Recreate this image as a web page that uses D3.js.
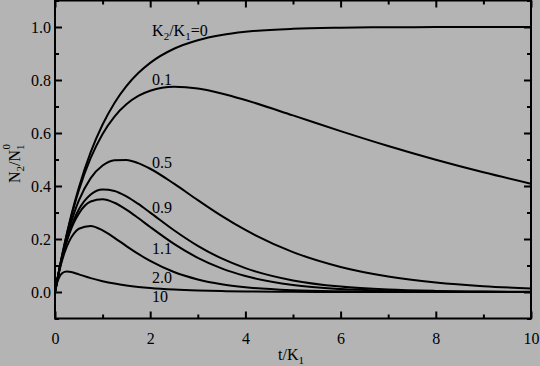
<!DOCTYPE html>
<html>
<head>
<meta charset="utf-8">
<script src="https://cdn.jsdelivr.net/npm/d3@7"></script>
<style>
  html, body { margin: 0; padding: 0; background: #b4b4b4; }
  svg { display: block; }
  text { font-family: "Liberation Serif", "Times New Roman", serif; fill: #000; }
</style>
</head>
<body>
<svg id="chart" width="540" height="366"></svg>
<script>
// ---- data ----
const tMain = [0,0.1,0.2,0.3,0.4,0.5,0.75,1,1.25,1.5,1.75,2,2.5,3,3.5,4,5,6,7,8,9,10];
const r0   = [0,0.0952,0.1813,0.2592,0.3297,0.3935,0.5276,0.6321,0.7135,0.7769,0.8262,0.8647,0.9179,0.9502,0.9698,0.9817,0.9933,0.9975,0.9991,0.9997,0.9999,1.0];
const r01  = [0,0.0947,0.1794,0.2551,0.3227,0.3830,0.5060,0.5966,0.6622,0.7084,0.7397,0.7593,0.7741,0.7678,0.7494,0.7244,0.6664,0.6070,0.5508,0.4989,0.4516,0.4087];
const r05  = [0,0.0928,0.1722,0.2398,0.2968,0.3445,0.4298,0.4773,0.4975,0.4985,0.4862,0.4651,0.4088,0.3467,0.2871,0.2340,0.1507,0.0946,0.0586,0.0360,0.0220,0.0134];
const r09  = [0,0.0909,0.1654,0.2256,0.2736,0.3110,0.3679,0.3869,0.3815,0.3611,0.3323,0.2996,0.2331,0.1742,0.1266,0.0901,0.0437,0.0204,0.0092,0.0041,0.0018,0.0008];
const r11  = [0,0.0900,0.1621,0.2189,0.2628,0.2958,0.3413,0.3501,0.3367,0.3108,0.2790,0.2453,0.1816,0.1290,0.0892,0.0604,0.0265,0.0112,0.0046,0.0018,0.0007,0.0003];
const r20  = [0,0.0861,0.1484,0.1920,0.2210,0.2387,0.2492,0.2325,0.2044,0.1733,0.1436,0.1170,0.0753,0.0473,0.0293,0.0180,0.0067,0.0025,0.0009,0.0003,0.0001,0.0000];
const tFast = [0,0.05,0.1,0.15,0.2,0.25,0.3,0.4,0.5,0.75,1,1.25,1.5,1.75,2,2.5,3,3.5,4,5,6,7,8,9,10];
const r10  = [0,0.0383,0.0597,0.0708,0.0759,0.0774,0.0768,0.0724,0.0666,0.0524,0.0409,0.0318,0.0248,0.0193,0.0150,0.0091,0.0055,0.0034,0.0020,0.0007,0.0003,0.0001,0.0000,0.0000,0.0000];

const xMajor = [0,2,4,6,8,10];
const xMinor = [1,3,5,7,9];
const yMajor = [0,0.2,0.4,0.6,0.8,1.0];
const yMinor = [-0.1,0.1,0.3,0.5,0.7,0.9,1.1];

const seriesList = [
  {t: tMain, v: r0},
  {t: tMain, v: r01},
  {t: tMain, v: r05},
  {t: tMain, v: r09},
  {t: tMain, v: r11},
  {t: tMain, v: r20},
  {t: tFast, v: r10}
];

const curveLabels = [
  {parts: [["K",""],["2","sub"],["/K",""],["1","sub"],["=0",""]], t: 2.04, v: 0.967},
  {parts: [["0.1",""]], t: 2.04, v: 0.782},
  {parts: [["0.5",""]], t: 2.04, v: 0.469},
  {parts: [["0.9",""]], t: 2.04, v: 0.299},
  {parts: [["1.1",""]], t: 2.04, v: 0.1445},
  {parts: [["2.0",""]], t: 2.04, v: 0.035},
  {parts: [["10",""]], t: 2.04, v: -0.037}
];

// ---- layout ----
const PL = 55, PR = 531, PT = 0.5, PB = 318.5;
const svg = d3.select("#chart");
const xs = d3.scaleLinear().domain([0,10]).range([PL,PR]);
const ys = d3.scaleLinear().domain([-0.1,1.1]).range([PB,PT]);

svg.append("rect").attr("width",540).attr("height",366).attr("fill","#b4b4b4");

const lineGen = d3.line().x(d => xs(d[0])).y(d => ys(d[1])).curve(d3.curveMonotoneX);
svg.append("clipPath").attr("id","clip").append("rect")
  .attr("x",PL).attr("y",PT).attr("width",PR-PL).attr("height",PB-PT);
svg.append("g").attr("clip-path","url(#clip)")
  .selectAll("path").data(seriesList).join("path")
  .attr("d", s => lineGen(s.t.map((t,i) => [t, s.v[i]])))
  .attr("fill","none").attr("stroke","#000").attr("stroke-width",2);

const fmt = d3.format(".1f");
const axBottom = d3.axisBottom(xs).tickValues(xMajor).tickSizeInner(-7).tickSizeOuter(0).tickPadding(14).tickFormat(d3.format("d"));
const axBottomMinor = d3.axisBottom(xs).tickValues(xMinor).tickSizeInner(-4).tickSizeOuter(0).tickFormat("");
const axTop = d3.axisTop(xs).tickValues(xMajor).tickSizeInner(-7).tickSizeOuter(0).tickFormat("");
const axTopMinor = d3.axisTop(xs).tickValues(xMinor).tickSizeInner(-4).tickSizeOuter(0).tickFormat("");
const axLeft = d3.axisLeft(ys).tickValues(yMajor).tickSizeInner(-7).tickSizeOuter(0).tickPadding(4).tickFormat(fmt);
const axLeftMinor = d3.axisLeft(ys).tickValues(yMinor).tickSizeInner(-4).tickSizeOuter(0).tickFormat("");
const axRight = d3.axisRight(ys).tickValues(yMajor).tickSizeInner(-7).tickSizeOuter(0).tickFormat("");
const axRightMinor = d3.axisRight(ys).tickValues(yMinor).tickSizeInner(-4).tickSizeOuter(0).tickFormat("");

function place(axis, tx, ty) {
  const g = svg.append("g").attr("transform",`translate(${tx},${ty})`).call(axis);
  g.selectAll("path.domain").remove();
  g.selectAll("line").attr("stroke","#000").attr("stroke-width",2);
  g.selectAll("text").attr("font-family","Liberation Serif, Times New Roman, serif").attr("font-size",16).attr("fill","#000");
  return g;
}
place(axBottom,0,PB); place(axBottomMinor,0,PB);
place(axTop,0,PT); place(axTopMinor,0,PT);
place(axLeft,PL,0); place(axLeftMinor,PL,0);
place(axRight,PR,0); place(axRightMinor,PR,0);

svg.append("rect").attr("x",PL).attr("y",PT).attr("width",PR-PL).attr("height",PB-PT)
  .attr("fill","none").attr("stroke","#000").attr("stroke-width",2);

function rich(sel, parts, subSize) {
  let prev = "";
  parts.forEach(([txt, kind]) => {
    const ts = sel.append("tspan").text(txt);
    let dy = 0;
    if (kind === "sub" && prev !== "sub") dy = 4;
    if (kind !== "sub" && prev === "sub") dy = -4;
    if (dy) ts.attr("dy", dy);
    if (kind === "sub") ts.attr("font-size", subSize);
    prev = kind;
  });
}

curveLabels.forEach(lb => {
  const tx = svg.append("text").attr("x", xs(lb.t)).attr("y", ys(lb.v)).attr("font-size",16);
  rich(tx, lb.parts, 11);
});

const xt = svg.append("text").attr("x", 278).attr("y", 360).attr("font-size",16);
rich(xt, [["t/K",""],["1","sub"]], 11);

const yt = svg.append("text").attr("transform","translate(20,183) rotate(-90)").attr("font-size",16);
yt.append("tspan").text("N");
yt.append("tspan").text("2").attr("font-size",11).attr("dy",4);
yt.append("tspan").text("/N").attr("dy",-4);
yt.append("tspan").text("1").attr("font-size",11).attr("dy",4);
yt.append("tspan").text("0").attr("font-size",11).attr("dx",-5).attr("dy",-14);
</script>
</body>
</html>
